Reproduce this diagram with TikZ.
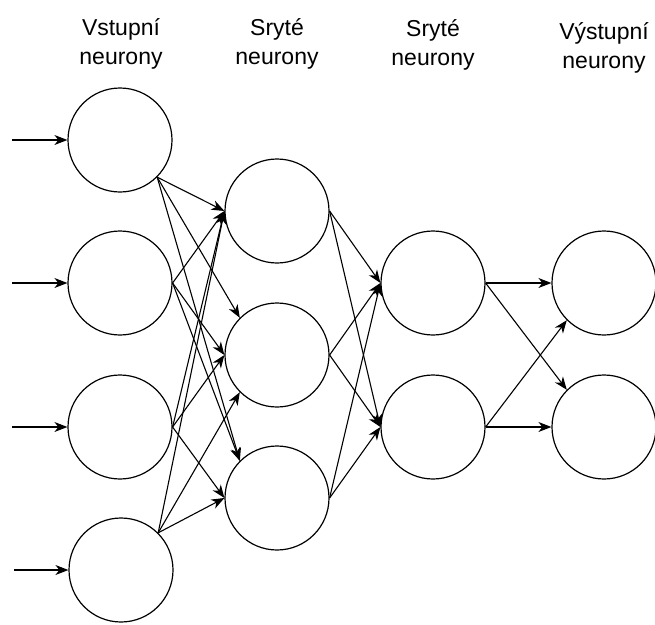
\documentclass[tikz,border=0pt]{standalone}
\usepackage{fontspec}
\setmainfont{Liberation Sans}
\usetikzlibrary{arrows.meta}
\begin{document}
\begin{tikzpicture}[x=1pt,y=-1pt,
  neuron/.style={draw,circle,minimum size=104pt,inner sep=0pt,line width=1.2pt},
  link/.style={-{Stealth[length=13pt,width=10pt,inset=4pt]},line width=1.1pt},
  layername/.style={align=center,font=\fontsize{23}{29}\selectfont}]
\useasboundingbox (0,0) rectangle (655,624);
\node[layername] (tin) at (121,44) {Vstupní\\neurony};
\node[layername] (tha) at (277,44) {Sryté\\neurony};
\node[layername] (thb) at (433,45) {Sryté\\neurony};
\node[layername] (tout) at (604,48) {Výstupní\\neurony};
\node[neuron] (in1) at (120,140) {};
\node[neuron] (in2) at (120,283) {};
\node[neuron] (in3) at (120,427) {};
\node[neuron] (in4) at (121,570) {};
\node[neuron] (ha1) at (277,211) {};
\node[neuron] (ha2) at (277,355) {};
\node[neuron] (ha3) at (277,498) {};
\node[neuron] (hb1) at (433,283) {};
\node[neuron] (hb2) at (433,427) {};
\node[neuron] (out1) at (604,283) {};
\node[neuron] (out2) at (604,427) {};
\coordinate (x1) at (12,140);
\coordinate (x2) at (12,283);
\coordinate (x3) at (12,427);
\coordinate (x4) at (14,570);
\draw[link] (x1) -- (in1.west);
\draw[link] (x2) -- (in2.west);
\draw[link] (x3) -- (in3.west);
\draw[link] (x4) -- (in4.west);
\draw[link] (in1.south east) -- (ha1.west);
\draw[link] (in1.south east) -- (ha2.north west);
\draw[link] (in1.south east) -- (ha3.north west);
\draw[link] (in2.east) -- (ha1.west);
\draw[link] (in2.east) -- (ha2.west);
\draw[link] (in2.east) -- (ha3.north west);
\draw[link] (in3.east) -- (ha1.west);
\draw[link] (in3.east) -- (ha2.west);
\draw[link] (in3.east) -- (ha3.west);
\draw[link] (in4.north east) -- (ha1.west);
\draw[link] (in4.north east) -- (ha2.south west);
\draw[link] (in4.north east) -- (ha3.west);
\draw[link] (ha1.east) -- (hb1.west);
\draw[link] (ha1.east) -- (hb2.west);
\draw[link] (ha2.east) -- (hb1.west);
\draw[link] (ha2.east) -- (hb2.west);
\draw[link] (ha3.east) -- (hb1.west);
\draw[link] (ha3.east) -- (hb2.west);
\draw[link] (hb1.east) -- (out1.west);
\draw[link] (hb1.east) -- (out2.north west);
\draw[link] (hb2.east) -- (out1.south west);
\draw[link] (hb2.east) -- (out2.west);
\end{tikzpicture}
\end{document}
